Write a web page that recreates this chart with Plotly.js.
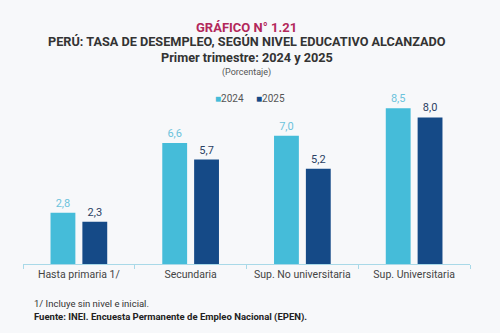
<!DOCTYPE html>
<html><head><meta charset="utf-8">
<script src="https://cdn.plot.ly/plotly-3.0.1.min.js"></script>
<style>html,body{margin:0;padding:0;background:#f7f8fa;}#c{width:500px;height:333px;}</style>
</head><body><div id="c"></div>
<script>
const categories = ["Hasta primaria 1/", "Secundaria", "Sup. No universitaria", "Sup. Universitaria"];
const values2024 = [2.8, 6.6, 7.0, 8.5];
const values2025 = [2.3, 5.7, 5.2, 8.0];
const seriesNames = ["2024", "2025"];
const seriesColors = ['#45bcd9', '#154a87'];

const F = "Roboto, 'Noto Sans', sans-serif";
const traces = [
  {type:'bar', name:seriesNames[0], x:categories, y:values2024, marker:{color:seriesColors[0]},
   text:values2024.map(v=>v.toFixed(1).replace('.',',')), textposition:'outside', cliponaxis:false,
   outsidetextfont:{family:F, size:11, color:'#6cc3dc'}, hoverinfo:'none'},
  {type:'bar', name:seriesNames[1], x:categories, y:values2025, marker:{color:seriesColors[1]},
   text:values2025.map(v=>v.toFixed(1).replace('.',',')), textposition:'outside', cliponaxis:false,
   outsidetextfont:{family:F, size:11, color:'#2b3f63'}, hoverinfo:'none'}
];
const legendAnn = seriesNames.map((n,i)=>({
  text:'<span style="color:'+seriesColors[i]+'">■</span>'+n, xref:'paper', yref:'paper',
  x:[0.424,0.517][i], y:0.954, xanchor:'left', yanchor:'middle', showarrow:false,
  font:{size:10, color:'#555', family:F}
}));
const layout = {
  width:500, height:333, paper_bgcolor:'#f7f8fa', plot_bgcolor:'#f7f8fa',
  margin:{l:23, r:30, t:90, b:69},
  font:{family:F, color:'#444'},
  barmode:'group', bargap:0.43, bargroupgap:0.22,
  showlegend:false,
  xaxis:{showline:true, linecolor:'#a9d9e8', linewidth:1, ticks:'outside', tickson:'boundaries',
         ticklen:4, tickcolor:'#a9d9e8', tickfont:{size:10.5, color:'#444'}, showgrid:false, fixedrange:true},
  yaxis:{range:[0,9.5], visible:false, showgrid:false, zeroline:false, fixedrange:true},
  annotations:[
    {text:'<b>GRÁFICO N° 1.21</b>', xref:'paper', yref:'paper', x:0.5, y:1, showarrow:false,
     xanchor:'center', yanchor:'middle', yshift:63, font:{size:13, color:'#b3285a', family:F}},
    {text:'<b>PERÚ: TASA DE DESEMPLEO, SEGÚN NIVEL EDUCATIVO ALCANZADO</b>', xref:'paper', yref:'paper', x:0.5, y:1, showarrow:false,
     xanchor:'center', yanchor:'middle', yshift:48.5, font:{size:12.7, color:'#333', family:F}},
    {text:'<b>Primer trimestre: 2024 y 2025</b>', xref:'paper', yref:'paper', x:0.5, y:1, showarrow:false,
     xanchor:'center', yanchor:'middle', yshift:32.5, font:{size:12.7, color:'#333', family:F}},
    {text:'(Porcentaje)', xref:'paper', yref:'paper', x:0.5, y:1, showarrow:false,
     xanchor:'center', yanchor:'middle', yshift:18, font:{size:9, color:'#555', family:F}},
    {text:'1/ Incluye sin nivel e inicial.', xref:'paper', yref:'paper', x:0, y:0, showarrow:false,
     xanchor:'left', yanchor:'middle', xshift:9, yshift:-39, font:{size:9.5, color:'#333', family:F}},
    {text:'<b>Fuente: INEI. Encuesta Permanente de Empleo Nacional (EPEN).</b>', xref:'paper', yref:'paper', x:0, y:0, showarrow:false,
     xanchor:'left', yanchor:'middle', xshift:9, yshift:-53, font:{size:9.5, color:'#222', family:F}}
  ].concat(legendAnn)
};
Plotly.newPlot('c', traces, layout, {displayModeBar:false, staticPlot:true});
</script></body></html>
